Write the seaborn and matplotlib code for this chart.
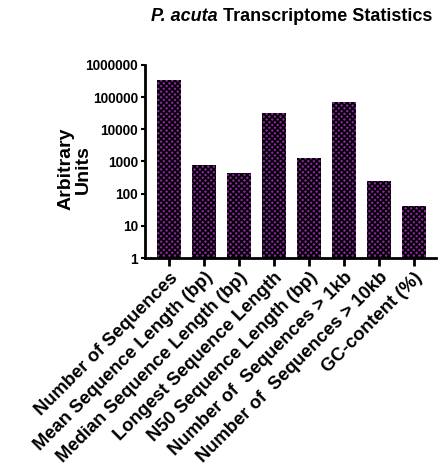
import matplotlib
matplotlib.use("Agg")
import matplotlib.pyplot as plt
import seaborn as sns
import pandas as pd

categories = [
    "Number of Sequences",
    "Mean Sequence Length (bp)",
    "Median Sequence Length (bp)",
    "Longest Sequence Length",
    "N50 Sequence Length (bp)",
    "Number of  Sequences > 1kb",
    "Number of  Sequences > 10kb",
    "GC-content (%)",
]
values = [330000, 800, 435, 31000, 1300, 69000, 240, 40]
y_ticks = [1, 10, 100, 1000, 10000, 100000, 1000000]
y_tick_labels = ["1", "10", "100", "1000", "10000", "100000", "1000000"]

df = pd.DataFrame({"stat": categories, "value": values})

sns.set_theme(style="ticks")
plt.rcParams["font.family"] = ["Liberation Sans", "DejaVu Sans"]
plt.rcParams["text.color"] = "black"
plt.rcParams["axes.labelcolor"] = "black"
plt.rcParams["xtick.color"] = "black"
plt.rcParams["ytick.color"] = "black"
plt.rcParams["hatch.linewidth"] = 1.2

fig = plt.figure(figsize=(4.43, 4.70), dpi=100)
ax = fig.add_axes([0.327, 0.451, 0.657, 0.411])

# black edge colour drives the hatch; the outline itself is not stroked
sns.barplot(data=df, x="stat", y="value", ax=ax, color="#8a22a0",
            width=0.68, saturation=1, edgecolor="black", linewidth=0)
for p in ax.patches:
    p.set_hatch("xxxxxx")

ax.set_yscale("log")
ax.set_ylim(1, 1000000)
ax.set_xlim(-0.69, 7.63)
ax.set_yticks(y_ticks)
ax.set_yticklabels(y_tick_labels, fontweight="bold", fontsize=9.8)
ax.minorticks_off()
ax.set_xticks(range(len(categories)))
ax.set_xticklabels(categories, rotation=45, ha="right", rotation_mode="anchor",
                   fontweight="bold", fontsize=13.2)
ax.set_xlabel("")
ax.set_ylabel("Arbitrary\nUnits", fontweight="bold", fontsize=14,
              linespacing=1.05, ha="center", va="center")
ax.yaxis.set_label_coords(-0.24, 0.46)

for s in ["top", "right"]:
    ax.spines[s].set_visible(False)
for s in ["left", "bottom"]:
    ax.spines[s].set_linewidth(2)
    ax.spines[s].set_color("black")
ax.tick_params(axis="y", length=3, width=1.5, pad=2, colors="black")
ax.tick_params(axis="x", length=6, width=2, pad=2, colors="black")

# Title: italic species name followed by plain bold text, centred as one line
renderer = fig.canvas.get_renderer()
t1 = fig.text(0, 0.964, "P. acuta", ha="left", va="center", fontsize=13,
              fontweight="bold", fontstyle="italic")
t2 = fig.text(0, 0.964, " Transcriptome Statistics", ha="left", va="center",
              fontsize=13, fontweight="bold")
w1 = t1.get_window_extent(renderer).width
w2 = t2.get_window_extent(renderer).width
fig_w = fig.bbox.width
x0 = 291.5 - (w1 + w2) / 2
t1.set_x(x0 / fig_w)
t2.set_x((x0 + w1) / fig_w)

fig.savefig("out.png", dpi=100)
